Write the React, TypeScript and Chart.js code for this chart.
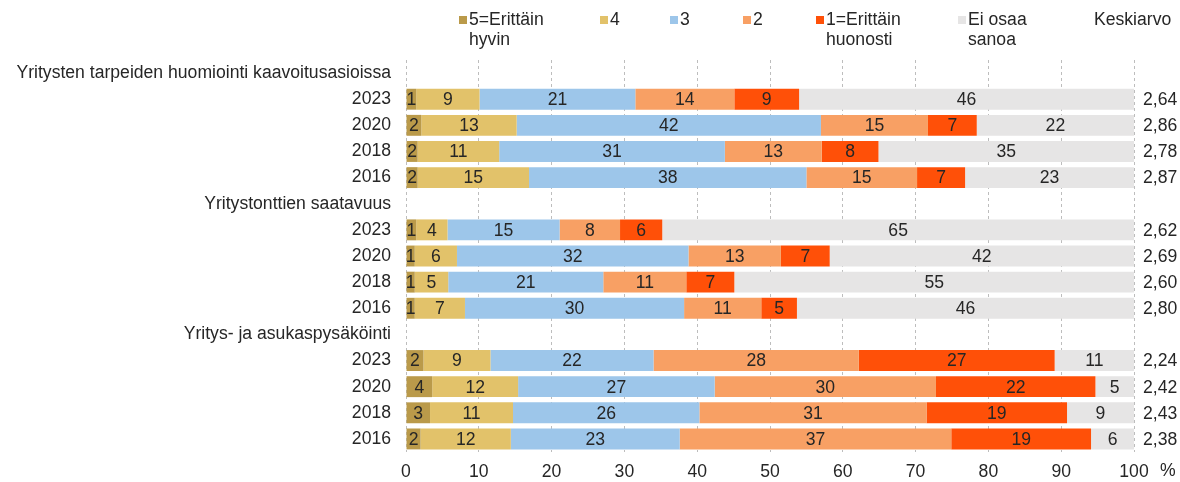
import React, { useEffect, useRef } from 'react';
import { Chart, registerables } from 'chart.js';

Chart.register(...registerables);

const categories = [
  'Yritysten tarpeiden huomiointi kaavoitusasioissa', '2023', '2020', '2018', '2016',
  'Yritystonttien saatavuus', '2023', '2020', '2018', '2016',
  'Yritys- ja asukaspysäköinti', '2023', '2020', '2018', '2016',
];

const seriesNames = ['5=Erittäin hyvin', '4', '3', '2', '1=Erittäin huonosti', 'Ei osaa sanoa'];
const legendLines = [['5=Erittäin', 'hyvin'], ['4'], ['3'], ['2'], ['1=Erittäin', 'huonosti'], ['Ei osaa', 'sanoa']];
const avgTitle = 'Keskiarvo';

const v5 = [null, 1.4, 2.1, 1.6, 1.6, null, 1.4, 1.2, 1.2, 1.2, null, 2.4, 3.6, 3.3, 2.0];
const v4 = [null, 8.7, 13.1, 11.2, 15.3, null, 4.3, 5.8, 4.6, 6.9, null, 9.2, 11.8, 11.4, 12.4];
const v3 = [null, 21.4, 41.8, 31.0, 38.1, null, 15.4, 31.8, 21.3, 30.1, null, 22.4, 27.0, 25.6, 23.2];
const v2 = [null, 13.6, 14.7, 13.3, 15.2, null, 8.3, 12.7, 11.4, 10.6, null, 28.2, 30.4, 31.2, 37.3];
const v1 = [null, 8.9, 6.7, 7.8, 6.6, null, 5.8, 6.7, 6.6, 4.9, null, 26.9, 21.9, 19.3, 19.2];
const v0 = [null, 46.0, 21.6, 35.1, 23.2, null, 64.8, 41.8, 54.9, 46.3, null, 10.9, 5.3, 9.2, 5.9];
const averages = [null, 2.64, 2.86, 2.78, 2.87, null, 2.62, 2.69, 2.60, 2.80, null, 2.24, 2.42, 2.43, 2.38];

const xMin = 0;
const xMax = 100;
const xStep = 10;
const xUnit = '%';

const colors = ['#BA9A4A', '#E2C26A', '#9DC6EA', '#F8A064', '#FF5008', '#E6E5E5'];
const FONT = "'Liberation Sans', Arial, sans-serif";
const FS = 17.6;
const TEXT = '#262626';

const legendMarkerX = [459, 600, 670, 743, 816, 958];

export default function App() {
  const ref = useRef<HTMLCanvasElement | null>(null);

  useEffect(() => {
    const canvas = ref.current;
    if (!canvas) return;
    const values = [v5, v4, v3, v2, v1, v0];

    const overlay = {
      id: 'overlay',
      afterDatasetsDraw(chart: any) {
        const ctx = chart.ctx;
        ctx.save();
        ctx.font = `${FS}px ${FONT}`;
        ctx.fillStyle = TEXT;
        ctx.textAlign = 'center';
        ctx.textBaseline = 'middle';
        chart.data.datasets.forEach((ds: any, di: number) => {
          const meta = chart.getDatasetMeta(di);
          meta.data.forEach((el: any, i: number) => {
            const v = ds.data[i];
            if (v == null) return;
            const c = el.getCenterPoint();
            ctx.fillText(String(Math.round(v)), c.x, c.y + 1);
          });
        });
        ctx.restore();
      },
      afterDraw(chart: any) {
        const ctx = chart.ctx;
        const ys = chart.scales.y;
        ctx.save();
        ctx.font = `${FS}px ${FONT}`;
        ctx.fillStyle = TEXT;
        ctx.textBaseline = 'middle';
        ctx.textAlign = 'left';
        averages.forEach((a, i) => {
          if (a == null) return;
          ctx.fillText(a.toFixed(2).replace('.', ','), chart.chartArea.right + 9, ys.getPixelForValue(i) + 1);
        });
        ctx.fillText(xUnit, chart.chartArea.right + 26, chart.chartArea.bottom + 19);
        legendLines.forEach((lines, k) => {
          const mx = legendMarkerX[k];
          ctx.fillStyle = colors[k];
          ctx.fillRect(mx, 16, 8, 8);
          ctx.fillStyle = TEXT;
          lines.forEach((ln, j) => ctx.fillText(ln, mx + 10, 20 + j * 20));
        });
        ctx.fillText(avgTitle, 1094, 20);
        ctx.restore();
      },
    };

    const chart = new Chart(canvas, {
      type: 'bar',
      data: {
        labels: categories,
        datasets: values.map((d, k) => ({
          label: seriesNames[k],
          data: d,
          backgroundColor: colors[k],
          borderWidth: 0,
          categoryPercentage: 1,
          barPercentage: 0.8,
        })),
      },
      options: {
        indexAxis: 'y',
        responsive: false,
        animation: false,
        layout: { padding: { top: 60, right: 46, left: 0, bottom: 0 } },
        plugins: { legend: { display: false }, tooltip: { enabled: false }, title: { display: false } },
        scales: {
          x: {
            stacked: true,
            min: xMin,
            max: xMax,
            ticks: { stepSize: xStep, color: TEXT, font: { family: FONT, size: FS }, padding: 10 },
            grid: { color: '#BDBDBD', lineWidth: 1, drawTicks: false },
            border: { display: false, dash: [3, 3] },
            afterFit: (s: any) => { s.height = 30; },
          },
          y: {
            stacked: true,
            ticks: { color: TEXT, font: { family: FONT, size: FS }, padding: 15, autoSkip: false },
            grid: { display: false, drawTicks: false },
            border: { display: false },
            afterFit: (s: any) => { s.width = 406; },
          },
        },
      },
      plugins: [overlay],
    } as any);

    return () => chart.destroy();
  }, []);

  return (
    <div style={{ position: 'absolute', left: 0, top: 0, width: 1180, height: 482, background: '#fff' }}>
      <canvas ref={ref} width={1180} height={482} style={{ display: 'block' }} />
    </div>
  );
}
